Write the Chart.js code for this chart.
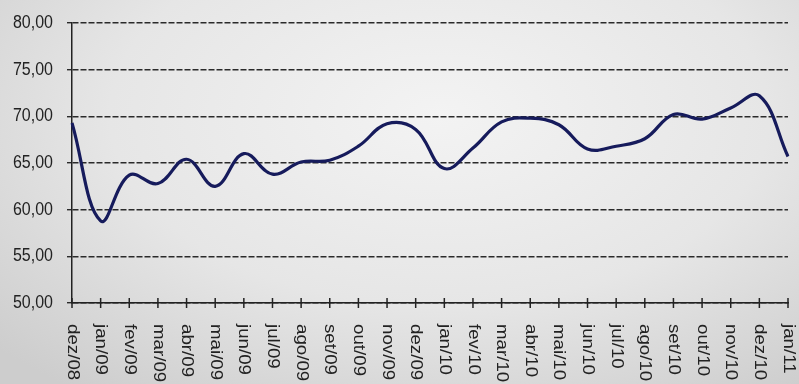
<!DOCTYPE html>
<html>
<head>
<meta charset="utf-8">
<script src="https://cdn.jsdelivr.net/npm/chart.js@4/dist/chart.umd.min.js"></script>
<style>
  html, body { margin: 0; padding: 0; }
  body {
    width: 799px; height: 384px; overflow: hidden;
    background: radial-gradient(ellipse 75% 90% at 55% 30%, #f3f3f3 0%, #e6e6e6 55%, #cdcdcd 100%);
  }
  #wrap { position: relative; width: 799px; height: 384px; }
</style>
</head>
<body>
<div id="wrap"><canvas id="c" width="799" height="384"></canvas></div>
<script>
const categories = ["dez/08","jan/09","fev/09","mar/09","abr/09","mai/09","jun/09","jul/09","ago/09","set/09","out/09","nov/09","dez/09","jan/10","fev/10","mar/10","abr/10","mai/10","jun/10","jul/10","ago/10","set/10","out/10","nov/10","dez/10","jan/11"];
const values = [69.3, 58.8, 63.7, 62.8, 65.4, 62.5, 66.0, 63.8, 65.1, 65.3, 66.8, 69.2, 68.6, 64.4, 66.6, 69.4, 69.8, 69.1, 66.5, 66.8, 67.6, 70.2, 69.7, 70.9, 72.2, 65.7];
const yTicks = [50, 55, 60, 65, 70, 75, 80];

const FONT = '16px "Liberation Sans", Arial, sans-serif';
const STRETCH = 1.17;

const labelsPlugin = {
  id: 'labels',
  afterDraw(chart) {
    const ctx = chart.ctx;
    const xs = chart.scales.x;
    const ys = chart.scales.y;
    const bottom = chart.chartArea.bottom;
    const left = chart.chartArea.left;
    ctx.save();
    ctx.strokeStyle = '#222';
    ctx.lineWidth = 1.5;
    ctx.fillStyle = '#222';
    ctx.font = FONT;
    // x ticks and rotated labels
    ctx.textAlign = 'left';
    ctx.textBaseline = 'middle';
    categories.forEach((lab, i) => {
      const x = xs.getPixelForTick(i);
      ctx.beginPath();
      ctx.moveTo(x, bottom - 5);
      ctx.lineTo(x, bottom + 5);
      ctx.stroke();
      ctx.save();
      ctx.translate(x, bottom + 21);
      ctx.rotate(Math.PI / 2);
      ctx.scale(STRETCH, 1);
      ctx.fillText(lab, 0, 0);
      ctx.restore();
    });
    // y labels
    ctx.textAlign = 'right';
    ctx.textBaseline = 'middle';
    yTicks.forEach(v => {
      const y = ys.getPixelForValue(v);
      ctx.save();
      ctx.translate(left - 19, y);
      ctx.scale(1, STRETCH);
      ctx.fillText(v.toFixed(2).replace('.', ','), 0, 0);
      ctx.restore();
    });
    ctx.restore();
  }
};

new Chart(document.getElementById('c'), {
  type: 'line',
  data: {
    labels: categories,
    datasets: [{
      data: values,
      borderColor: '#161b5c',
      borderWidth: 3.2,
      pointRadius: 0,
      tension: 0.4,
      fill: false
    }]
  },
  options: {
    responsive: false,
    animation: false,
    layout: { padding: { top: 23, right: 11, left: 0, bottom: 0 } },
    plugins: { legend: { display: false }, tooltip: { enabled: false } },
    scales: {
      x: {
        offset: false,
        grid: { display: false, drawOnChartArea: false },
        border: { display: true, color: '#222', width: 1.5 },
        ticks: { display: false, autoSkip: false },
        afterFit(scale) { scale.height = 81; }
      },
      y: {
        min: 50, max: 80,
        afterBuildTicks(scale) { scale.ticks = yTicks.map(v => ({ value: v })); },
        grid: {
          color: '#2a2a2a', lineWidth: 1.4, tickLength: 5,
          tickBorderDash: [6, 2], tickColor: '#2a2a2a'
        },
        border: { display: true, color: '#222', width: 1.5, dash: [6, 2] },
        ticks: { display: false },
        afterFit(scale) { scale.width = 72; }
      }
    }
  },
  plugins: [labelsPlugin]
});
</script>
</body>
</html>
